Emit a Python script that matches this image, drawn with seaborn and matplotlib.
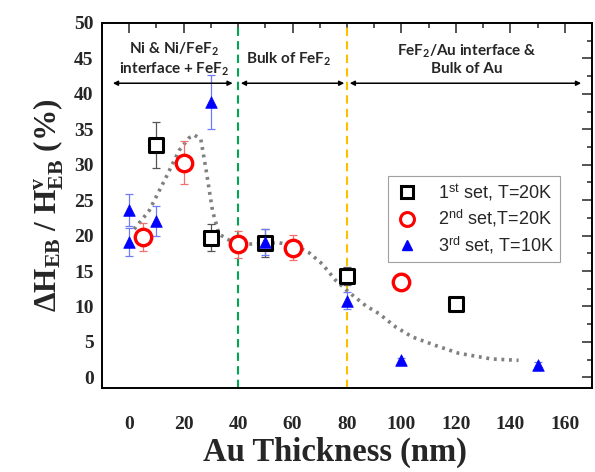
import matplotlib
matplotlib.use("Agg")
import matplotlib.pyplot as plt
import seaborn as sns
import pandas as pd
from matplotlib.ticker import MultipleLocator
from matplotlib.lines import Line2D

# ---- data ----
set1_x = [10, 30, 50, 80, 120]
set1_y = [32.8, 19.7, 19.0, 14.3, 10.4]
set1_err = [3.3, 1.9, 2.0, 1.3, 0.5]

set2_x = [5, 20, 40, 60, 100]
set2_y = [19.8, 30.3, 18.8, 18.3, 13.5]
set2_err = [2.0, 3.0, 1.9, 1.8, 1.2]

set3_x = [0, 0, 10, 30, 50, 80, 100, 150]
set3_y = [23.6, 19.1, 22.1, 38.8, 19.1, 10.8, 2.5, 1.8]
set3_err = [2.2, 2.0, 2.1, 3.8, 1.9, 1.2, 0.3, 0.3]

guide_x = [1.8, 7.3, 13.5, 18.3, 22.0, 23.9, 26.3, 28.1, 30.6, 33.0, 37.9, 44.0,
           55.0, 62.0, 66.0, 70.9, 75.8, 80.7, 86.9, 91.7, 97.9, 104.0, 112.5,
           121.0, 133.0, 143.0]
guide_y = [20.9, 23.5, 28.2, 32.0, 33.8, 34.2, 33.6, 29.6, 23.5, 20.2, 19.1, 18.8,
           19.0, 18.4, 17.6, 16.0, 13.7, 12.0, 10.1, 9.0, 7.1, 5.7, 4.5,
           3.4, 2.6, 2.4]

region_lines = [40, 80]
region_labels = ["Ni & Ni/FeF$_\\mathsf{2}$\ninterface + FeF$_\\mathsf{2}$",
                 "Bulk of FeF$_\\mathsf{2}$",
                 "FeF$_\\mathsf{2}$/Au interface &\nBulk of Au"]
region_label_x = [16.5, 58.7, 124]
arrow_spans = [(-6, 38), (41, 79), (81, 166)]

legend_labels = ["1$^{\\mathtt{st}}$ set, T=20K",
                 "2$^{\\mathtt{nd}}$ set,T=20K",
                 "3$^{\\mathtt{rd}}$ set, T=10K"]

sns.set_style("white")
plt.rcParams["mathtext.fontset"] = "custom"
plt.rcParams["mathtext.rm"] = "Liberation Serif:bold"
plt.rcParams["mathtext.bf"] = "Liberation Serif:bold"
plt.rcParams["mathtext.it"] = "Liberation Serif:bold"
plt.rcParams["mathtext.sf"] = "Lato:bold"
plt.rcParams["mathtext.tt"] = "Liberation Sans"

fig = plt.figure(figsize=(5.95, 4.72), dpi=100)
ax = fig.add_axes([0.1714, 0.178, 0.8236, 0.7733])

# guide curve
gdf = pd.DataFrame({"x": guide_x, "y": guide_y})
sns.lineplot(data=gdf, x="x", y="y", ax=ax, sort=False, color="#808080",
             linewidth=2.6, linestyle=(0, (0.8, 1.3)), zorder=2)

# vertical region lines
ax.axvline(region_lines[0], color="#00a651", linestyle=(0, (4, 2.5)), linewidth=1.5, zorder=1)
ax.axvline(region_lines[1], color="#ffbf00", linestyle=(0, (4, 2.5)), linewidth=1.5, zorder=1)

# error bars
ax.errorbar(set1_x, set1_y, yerr=set1_err, fmt="none", ecolor="#555555",
            elinewidth=0.9, capsize=3, capthick=0.9, zorder=3)
ax.errorbar(set2_x, set2_y, yerr=set2_err, fmt="none", ecolor="#f07070",
            elinewidth=0.9, capsize=3, capthick=0.9, zorder=3)
ax.errorbar(set3_x, set3_y, yerr=set3_err, fmt="none", ecolor="#6f7cf5",
            elinewidth=0.9, capsize=3, capthick=0.9, zorder=3)

# markers
d1 = pd.DataFrame({"x": set1_x, "y": set1_y})
d2 = pd.DataFrame({"x": set2_x, "y": set2_y})
d3 = pd.DataFrame({"x": set3_x, "y": set3_y})
sns.scatterplot(data=d1, x="x", y="y", ax=ax, marker="s", s=110,
                facecolor="white", edgecolor="black", linewidth=2.2, zorder=5)
sns.scatterplot(data=d2, x="x", y="y", ax=ax, marker="o", s=140,
                facecolor="white", edgecolor="#ff0000", linewidth=2.4, zorder=5)
sns.scatterplot(data=d3, x="x", y="y", ax=ax, marker="^", s=70,
                color="#0000ff", edgecolor="#0000ff", linewidth=0.5, zorder=6)

# arrows and region labels
for (x0, x1) in arrow_spans:
    ax.annotate("", xy=(x0, 41.5), xytext=(x1, 41.5),
                arrowprops=dict(arrowstyle="<|-|>", color="black", lw=1.1,
                                mutation_scale=7, shrinkA=0, shrinkB=0))
for lab, lx in zip(region_labels, region_label_x):
    ax.text(lx, 44.9, lab, ha="center", va="center", fontsize=11,
            family="Lato", fontweight="bold", linespacing=1.2)

ax.set_xlim(-10, 170)
ax.set_ylim(-1.5, 50)
ax.xaxis.set_major_locator(MultipleLocator(20))
ax.xaxis.set_minor_locator(MultipleLocator(10))
ax.yaxis.set_major_locator(MultipleLocator(5))
ax.yaxis.set_minor_locator(MultipleLocator(2.5))
ax.tick_params(which="both", direction="in", top=True, right=True, width=1.1)
ax.tick_params(which="major", length=7)
ax.tick_params(which="minor", length=3.5)
ax.tick_params(axis="both", which="major", labelsize=14, pad=6)
for lbl in ax.get_xticklabels() + ax.get_yticklabels():
    lbl.set_family("Liberation Serif")
    lbl.set_fontweight("bold")
ax.tick_params(axis="x", pad=20)
for sp in ax.spines.values():
    sp.set_linewidth(1.4)
    sp.set_color("black")

ax.set_xlabel("Au Thickness (nm)", fontsize=23.5, family="Liberation Serif",
              fontweight="bold")
ax.xaxis.set_label_coords(0.475, -0.135)
ax.set_ylabel("ΔH$_{EB}$ / H$^{v}_{EB}$ (%)", fontsize=22.5, family="Liberation Serif",
              fontweight="bold", labelpad=6)

handles = [
    Line2D([], [], marker="s", linestyle="none", markersize=9, markerfacecolor="white",
           markeredgecolor="black", markeredgewidth=2.2),
    Line2D([], [], marker="o", linestyle="none", markersize=10, markerfacecolor="white",
           markeredgecolor="#ff0000", markeredgewidth=2.2),
    Line2D([], [], marker="^", linestyle="none", markersize=7, color="#0000ff"),
]
leg = ax.legend(handles, legend_labels, loc="upper right", bbox_to_anchor=(0.953, 0.605),
                prop={"family": "Liberation Sans", "size": 13}, frameon=True,
                fancybox=False, edgecolor="#888888", handletextpad=1.0,
                borderpad=0.3, labelspacing=0.3, handlelength=1.5)
leg.get_frame().set_linewidth(0.8)

fig.savefig("out.png", dpi=100)
